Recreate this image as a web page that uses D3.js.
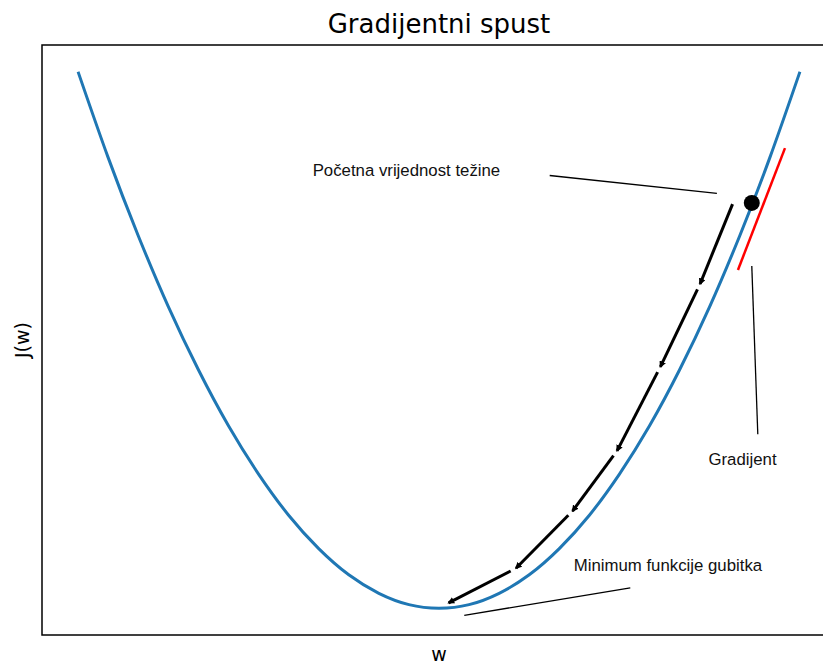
<!DOCTYPE html>
<html>
<head>
<meta charset="utf-8">
<script src="https://cdn.jsdelivr.net/npm/d3@7"></script>
<style>
  body { margin: 0; background: #fff; }
  svg { display: block; }
</style>
</head>
<body>
<div id="chart"></div>
<script>
// loss curve J(w)
const curveW = [-3, -2.75, -2.5, -2.25, -2, -1.75, -1.5, -1.25, -1, -0.75, -0.5, -0.25, 0,
  0.25, 0.5, 0.75, 1, 1.25, 1.5, 1.75, 2, 2.25, 2.5, 2.75, 3];
const curveJ = [9, 7.56, 6.25, 5.06, 4, 3.06, 2.25, 1.56, 1, 0.56, 0.25, 0.06, 0,
  0.06, 0.25, 0.56, 1, 1.56, 2.25, 3.06, 4, 5.06, 6.25, 7.56, 9];

// descent steps (arrows go from one to the next)
const stepW = [2.44, 2.17, 1.84, 1.48, 1.11, 0.64, 0.08];
const stepJ = [6.78, 5.44, 4.05, 2.64, 1.63, 0.67, 0.09];

// starting weight and gradient segment
const startW = 2.6, startJ = 6.8;
const gradW = [2.485, 2.876];
const gradJ = [5.675, 7.72];

// annotations: text anchor and pointer line
const notes = [
  { text: "Početna vrijednost težine", tw: -1.05, tj: 7.35, lw: [0.92, 2.31], lj: [7.26, 6.96] },
  { text: "Gradijent", tw: 2.24, tj: 2.5, lw: [2.6, 2.65], lj: [5.74, 2.92] },
  { text: "Minimum funkcije gubitka", tw: 1.12, tj: 0.72, lw: [1.59, 0.21], lj: [0.34, -0.12] }
];

const width = 823, height = 664;
const margin = { top: 45, right: -13, bottom: 29, left: 42 };

const svg = d3.select("#chart").append("svg")
  .attr("width", width).attr("height", height);

const x = d3.scaleLinear().domain([-3.3, 3.3]).range([margin.left, width - margin.right]);
const y = d3.scaleLinear().domain([-0.45, 9.45]).range([height - margin.bottom, margin.top]);

svg.append("defs").append("marker")
  .attr("id", "head")
  .attr("viewBox", "0 0 10 10")
  .attr("refX", 8).attr("refY", 5)
  .attr("markerWidth", 2.3).attr("markerHeight", 2.3)
  .attr("markerUnits", "strokeWidth")
  .attr("orient", "auto")
  .append("path").attr("d", "M0,0 L10,5 L0,10 z").attr("fill", "#000");

// frame
svg.append("rect")
  .attr("x", x(-3.3)).attr("y", y(9.45))
  .attr("width", x(3.3) - x(-3.3)).attr("height", y(-0.45) - y(9.45))
  .attr("fill", "none").attr("stroke", "#000").attr("stroke-width", 1.5);

// loss curve
const curveData = curveW.map((w, i) => ({ w: w, j: curveJ[i] }));
svg.append("path")
  .datum(curveData)
  .attr("fill", "none")
  .attr("stroke", "#1f77b4")
  .attr("stroke-width", 3)
  .attr("d", d3.line().x(d => x(d.w)).y(d => y(d.j)).curve(d3.curveNatural));

// gradient
svg.append("line")
  .attr("x1", x(gradW[0])).attr("y1", y(gradJ[0]))
  .attr("x2", x(gradW[1])).attr("y2", y(gradJ[1]))
  .attr("stroke", "#ff0000").attr("stroke-width", 2.5);

// descent arrows
for (let i = 0; i < stepW.length - 1; i++) {
  const x1 = x(stepW[i]), y1 = y(stepJ[i]);
  const x2 = x(stepW[i + 1]), y2 = y(stepJ[i + 1]);
  const len = Math.hypot(x2 - x1, y2 - y1);
  const s = i === 0 ? 0 : 6;
  svg.append("line")
    .attr("x1", x1 + (x2 - x1) * s / len).attr("y1", y1 + (y2 - y1) * s / len)
    .attr("x2", x2).attr("y2", y2)
    .attr("stroke", "#000").attr("stroke-width", 3)
    .attr("marker-end", "url(#head)");
}

// starting point
svg.append("circle")
  .attr("cx", x(startW)).attr("cy", y(startJ))
  .attr("r", 8).attr("fill", "#000");

// annotations
notes.forEach(n => {
  svg.append("line")
    .attr("x1", x(n.lw[0])).attr("y1", y(n.lj[0]))
    .attr("x2", x(n.lw[1])).attr("y2", y(n.lj[1]))
    .attr("stroke", "#000").attr("stroke-width", 1.3);
  svg.append("text")
    .attr("x", x(n.tw)).attr("y", y(n.tj))
    .attr("dy", "0.35em")
    .attr("font-family", "Liberation Sans, Arial, sans-serif")
    .attr("font-size", 16.8)
    .attr("fill", "#111")
    .text(n.text);
});

// title and axis labels
svg.append("text")
  .attr("x", x(0)).attr("y", 33)
  .attr("text-anchor", "middle")
  .attr("font-family", "DejaVu Sans, sans-serif")
  .attr("font-size", 26)
  .text("Gradijentni spust");

svg.append("text")
  .attr("x", x(0)).attr("y", 661)
  .attr("text-anchor", "middle")
  .attr("font-family", "DejaVu Sans, sans-serif")
  .attr("font-size", 19)
  .text("w");

svg.append("text")
  .attr("transform", `translate(29, ${y(4.5)}) rotate(-90)`)
  .attr("text-anchor", "middle")
  .attr("font-family", "DejaVu Sans, sans-serif")
  .attr("font-size", 19)
  .text("J(w)");
</script>
</body>
</html>
